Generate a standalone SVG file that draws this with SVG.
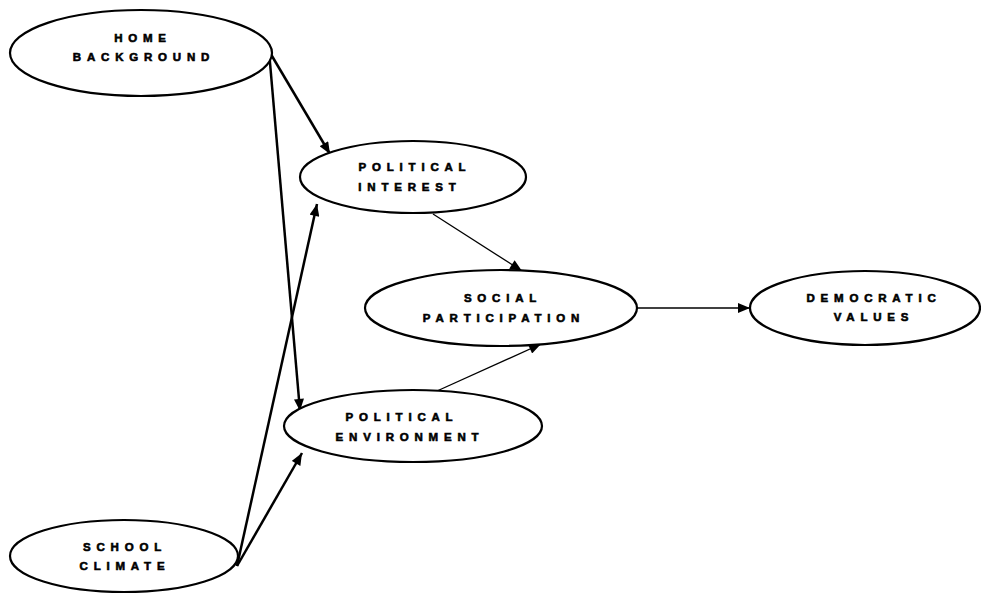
<svg xmlns="http://www.w3.org/2000/svg" width="981" height="594" viewBox="0 0 981 594">
<defs>
<style>
.node ellipse{fill:#fff;stroke:#000;stroke-width:2.2}
.node text{font-family:"Liberation Sans",Arial,sans-serif;font-weight:bold;font-size:11.5px;letter-spacing:5.8px;text-anchor:middle;fill:#000;stroke:#000;stroke-width:0.6}
.edges line{stroke:#000;fill:none}
.thick{stroke-width:2.5}
.thin{stroke-width:1.3}
</style>
<marker id="arr" viewBox="0 0 12 10" refX="12" refY="5" markerWidth="13" markerHeight="10" markerUnits="userSpaceOnUse" orient="auto">
<path d="M0,0 L12,5 L0,10 z" fill="#000"/>
</marker>
</defs>
<rect width="981" height="594" fill="#fff"/>
<g class="edges">
<line class="thick" x1="269" y1="51" x2="330" y2="154" marker-end="url(#arr)"/>
<line class="thick" x1="269" y1="51" x2="300" y2="411" marker-end="url(#arr)"/>
<line class="thick" x1="237" y1="566" x2="317" y2="204" marker-end="url(#arr)"/>
<line class="thick" x1="237" y1="566" x2="302" y2="453" marker-end="url(#arr)"/>
<line class="thin" x1="433" y1="214" x2="522" y2="271" marker-end="url(#arr)"/>
<line class="thin" x1="437" y1="391" x2="541" y2="344" marker-end="url(#arr)"/>
<line class="thin" x1="637" y1="308" x2="750" y2="308" marker-end="url(#arr)"/>
</g>
<g id="home" class="node">
<ellipse cx="141" cy="53" rx="131" ry="43"/>
<text x="143" y="42">HOME</text>
<text x="144" y="61">BACKGROUND</text>
</g>
<g id="interest" class="node">
<ellipse cx="413" cy="177" rx="113" ry="36"/>
<text x="415" y="171">POLITICAL</text>
<text x="410" y="191">INTEREST</text>
</g>
<g id="social" class="node">
<ellipse cx="501" cy="308" rx="136" ry="38"/>
<text x="503" y="302">SOCIAL</text>
<text x="504" y="322">PARTICIPATION</text>
</g>
<g id="democratic" class="node">
<ellipse cx="865" cy="308" rx="115" ry="37"/>
<text x="874" y="302">DEMOCRATIC</text>
<text x="874" y="321">VALUES</text>
</g>
<g id="environment" class="node">
<ellipse cx="413" cy="426" rx="129" ry="36"/>
<text x="402" y="421">POLITICAL</text>
<text x="410" y="441">ENVIRONMENT</text>
</g>
<g id="school" class="node">
<ellipse cx="124" cy="556" rx="114" ry="36"/>
<text x="125" y="551">SCHOOL</text>
<text x="125" y="570">CLIMATE</text>
</g>
</svg>
